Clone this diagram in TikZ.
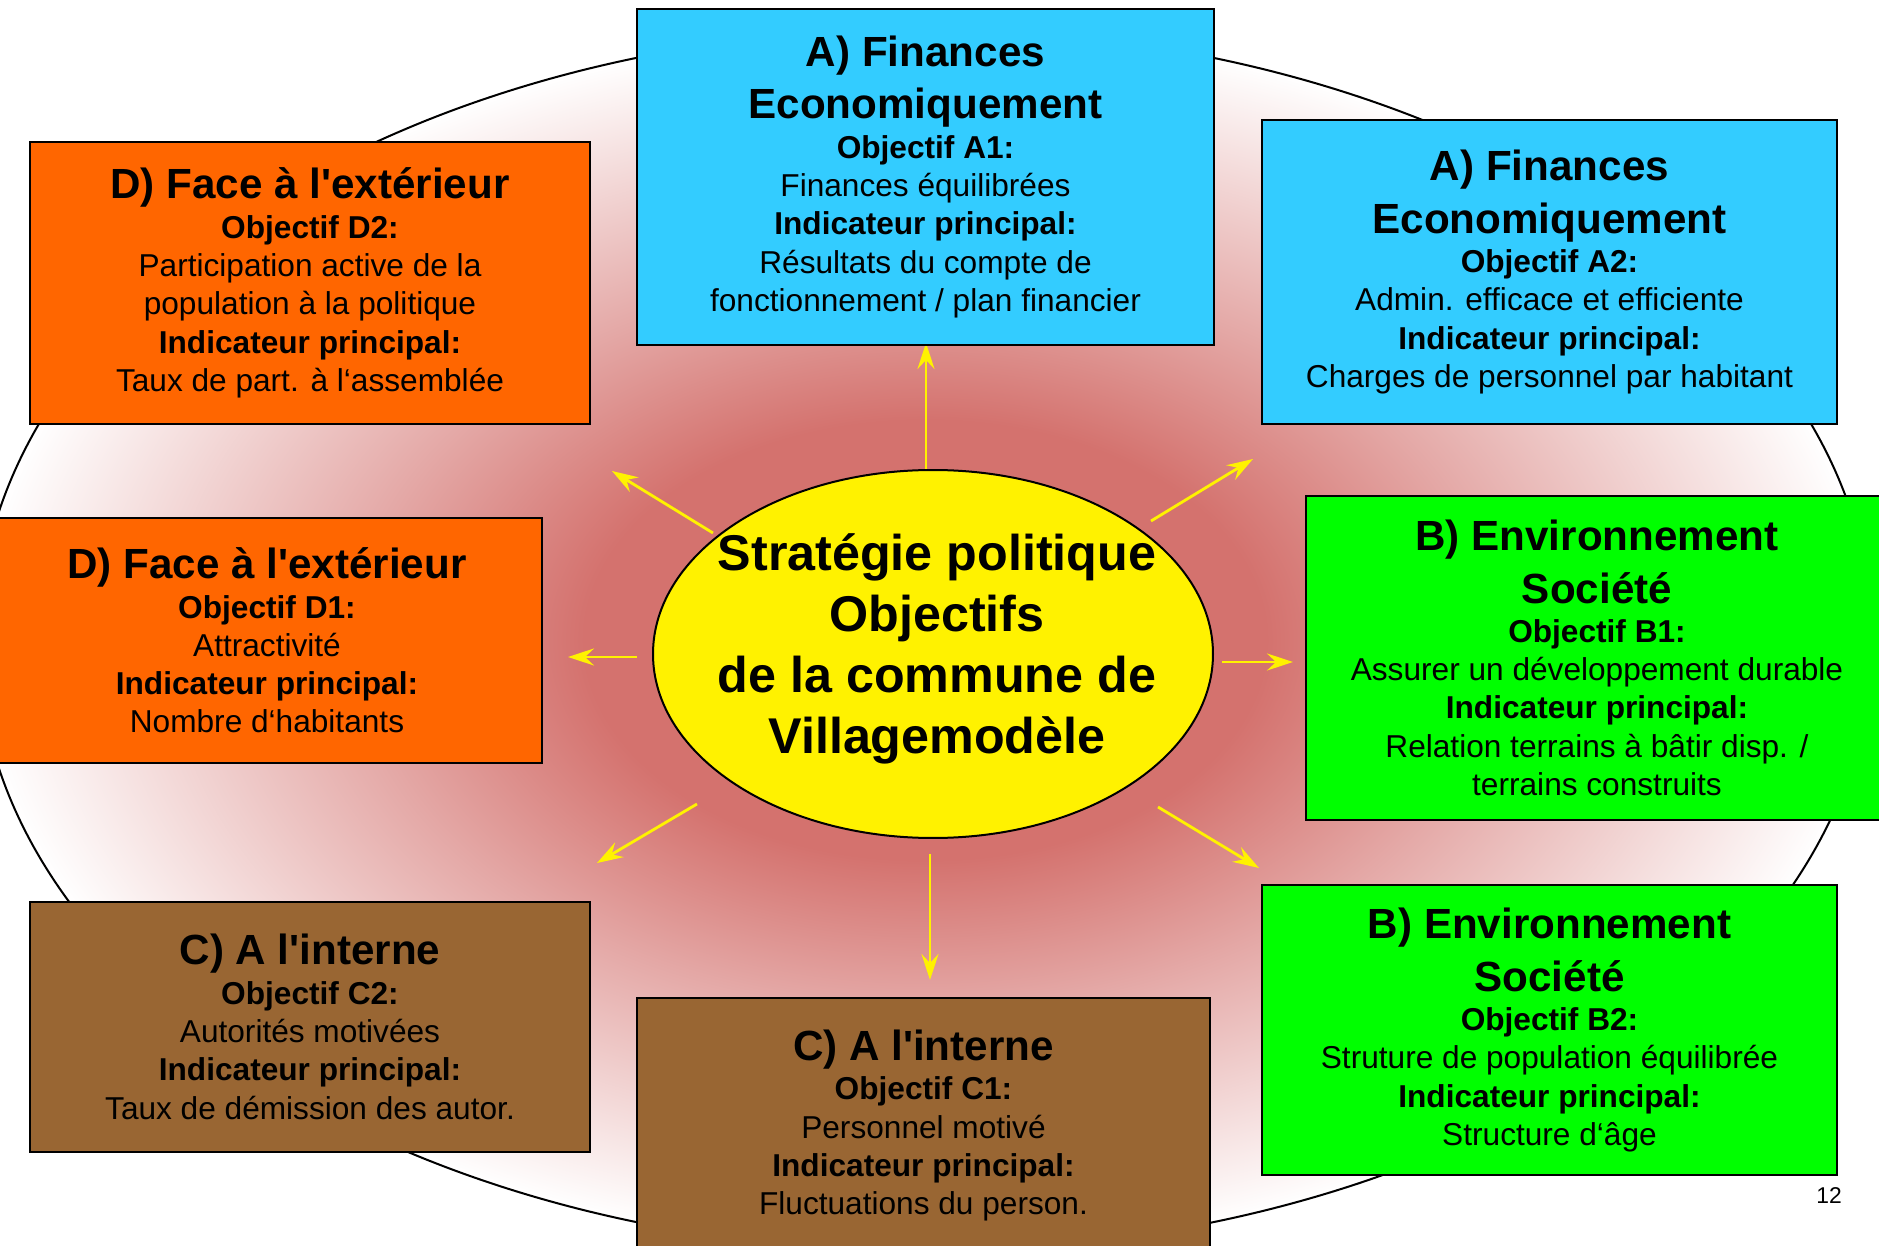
\documentclass[tikz,border=0pt]{standalone}
\usepackage{fontspec}
\setmainfont{Liberation Sans}
\usetikzlibrary{positioning, calc, arrows.meta}

\definecolor{fincyan}{RGB}{51,204,255}
\definecolor{envgreen}{RGB}{0,255,0}
\definecolor{intbrown}{RGB}{153,102,51}
\definecolor{extorange}{RGB}{255,102,0}
\definecolor{glowred}{RGB}{212,114,110}
\definecolor{glowpink}{RGB}{228,168,166}

\pgfdeclareradialshading{glow}{\pgfpoint{0bp}{0bp}}{color(0bp)=(glowred); color(9bp)=(glowred); color(15bp)=(glowpink); color(25bp)=(white); color(50bp)=(white)}

\newcommand{\ttl}[1]{{\fontsize{12}{14.6}\selectfont\bfseries #1}}
\newcommand{\boxfont}{\fontsize{9}{10.9}\selectfont\lineskiplimit=-100pt\relax}

\begin{document}
\begin{tikzpicture}[x=0.1mm, y=-0.1mm,
    goalbox/.style={draw, line width=0.2mm, align=center, inner sep=0pt, font=\boxfont},
    arr/.style={yellow, line width=0.8pt, -{Stealth[length=2.6mm, width=1.7mm, inset=0.9mm]}}]
      \useasboundingbox (0,0) rectangle (1879,1246);
      \clip (0,0) rectangle (1879,1246);
      % background
      \shadedraw[shading=glow, line width=0.2mm] (925,640) ellipse [x radius=94.7mm, y radius=61.1mm];
      % centre
      \coordinate (o) at (933,654);
      \draw[fill=yellow, line width=0.2mm] (o) ellipse [x radius=28mm, y radius=18.4mm];
      \node[align=center, font=\fontsize{14.3}{17.4}\selectfont\bfseries] (ctr) at (937,649)
        {Stratégie politique\\Objectifs\\de la commune de\\Villagemodèle};
      % arrows
      \coordinate (n0) at (926,469);   \coordinate (n1) at (926,343);
      \coordinate (ne0) at (1151,521); \coordinate (ne1) at (1253,459);
      \coordinate (e0) at (1222,662);  \coordinate (e1) at (1293,662);
      \coordinate (se0) at (1158,807); \coordinate (se1) at (1259,868);
      \coordinate (s0) at (930,854);   \coordinate (s1) at (930,980);
      \coordinate (sw0) at (697,804);  \coordinate (sw1) at (597,863);
      \coordinate (w0) at (637,657);   \coordinate (w1) at (568,657);
      \coordinate (nw0) at (713,533);  \coordinate (nw1) at (612,471);
      \draw[arr] (n0) -- (n1);
      \draw[arr] (ne0) -- (ne1);
      \draw[arr] (e0) -- (e1);
      \draw[arr] (se0) -- (se1);
      \draw[arr] (s0) -- (s1);
      \draw[arr] (sw0) -- (sw1);
      \draw[arr] (w0) -- (w1);
      \draw[arr] (nw0) -- (nw1);
      % boxes
      \node[goalbox, fill=fincyan, minimum width=57.7mm, minimum height=33.6mm] (a1) at (925.5,177)
        {\ttl{A) Finances}\\[4pt]\ttl{Economiquement}\\[0.3pt]\textbf{Objectif A1:}\\Finances équilibrées\\
         \textbf{Indicateur principal:}\\Résultats du compte de\\fonctionnement / plan financier};
      \node[goalbox, fill=fincyan, minimum width=57.5mm, minimum height=30.4mm] (a2) at (1549.5,272)
        {\ttl{A) Finances}\\[4pt]\ttl{Economiquement}\\[0.3pt]\textbf{Objectif A2:}\\Admin. efficace et efficiente\\
         \textbf{Indicateur principal:}\\Charges de personnel par habitant};
      \node[goalbox, fill=envgreen, minimum width=58.2mm, minimum height=32.4mm] (b1) at (1597,658)
        {\ttl{B) Environnement}\\[4pt]\ttl{Société}\\[0.3pt]\textbf{Objectif B1:}\\Assurer un développement durable\\
         \textbf{Indicateur principal:}\\Relation terrains à bâtir disp. /\\terrains construits};
      \node[goalbox, fill=envgreen, minimum width=57.5mm, minimum height=29mm] (b2) at (1549.5,1030)
        {\ttl{B) Environnement}\\[4pt]\ttl{Société}\\[0.3pt]\textbf{Objectif B2:}\\Struture de population équilibrée\\
         \textbf{Indicateur principal:}\\Structure d‘âge};
      \node[goalbox, fill=intbrown, minimum width=57.3mm, minimum height=25.5mm] (c1) at (923.5,1125.5)
        {\ttl{C) A l\textquotesingle interne}\\[0.3pt]\textbf{Objectif C1:}\\Personnel motivé\\
         \textbf{Indicateur principal:}\\Fluctuations du person.};
      \node[goalbox, fill=intbrown, minimum width=56mm, minimum height=25mm] (c2) at (310,1027)
        {\ttl{C) A l\textquotesingle interne}\\[0.3pt]\textbf{Objectif C2:}\\Autorités motivées\\
         \textbf{Indicateur principal:}\\Taux de démission des autor.};
      \node[goalbox, fill=extorange, minimum width=55mm, minimum height=24.5mm] (d1) at (267,640.5)
        {\ttl{D) Face à l\textquotesingle extérieur}\\[0.3pt]\textbf{Objectif D1:}\\Attractivité\\
         \textbf{Indicateur principal:}\\Nombre d‘habitants};
      \node[goalbox, fill=extorange, minimum width=56mm, minimum height=28.2mm] (d2) at (310,283)
        {\ttl{D) Face à l\textquotesingle extérieur}\\[0.3pt]\textbf{Objectif D2:}\\Participation active de la\\
         population à la politique\\\textbf{Indicateur principal:}\\Taux de part. à l‘assemblée};
      % page number
      \node[font=\fontsize{6.5}{8}\selectfont] (pg) at (1829,1196) {12};
\end{tikzpicture}
\end{document}
